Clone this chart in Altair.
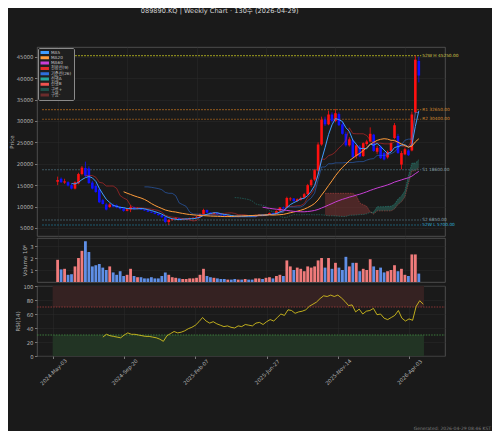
import altair as alt
import pandas as pd

# ---------------- data ----------------
TITLE = "089890.KQ  |  Weekly Chart · 130주  (2026-04-29)"
FOOTER = "Generated: 2026-04-29 08:46 KST"

TICK_POS = [0, 20, 40, 60, 80, 100]
TICK_LABELS = ["2024-May-03", "2024-Sep-20", "2025-Feb-07", "2025-Jun-27", "2025-Nov-14", "2026-Apr-03"]

OPEN = [15800, 16500, 15600, 15700, 15000, 14200, 15400, 17600, 19000, 18900,
        15600, 14800, 14000, 11500, 10500, 9900, 10400, 10300, 9900, 9600,
        9000, 9300, 9900, 9500, 9600, 9300, 9100, 8800, 8600, 8300,
        8000, 7500, 6400, 6900, 7100, 7300, 7000, 7000, 7100, 7300,
        7400, 7600, 8200, 9200, 8600, 8300, 8500, 8200, 8000, 7800,
        7900, 7700, 7600, 7800, 7700, 7900, 7800, 7700, 8000, 8100,
        7900, 8200, 8500, 8300, 9000, 9800, 9700, 11700, 11900, 11300,
        11600, 12100, 12900, 15000, 16300, 18400, 24500, 30300, 29200, 31500,
        30000, 31600, 29200, 27000, 24300, 25500, 21800, 24000, 21800, 24600,
        25200, 26800, 22800, 24000, 22500, 21500, 23000, 26000, 26500, 19800,
        22200, 23100, 23100, 32000, 44000]
HIGH = [17000, 16800, 16500, 15900, 15300, 15900, 17900, 19500, 20500, 19400,
        16000, 15200, 14400, 11800, 10800, 10800, 10700, 10500, 10100, 9800,
        9600, 10300, 10000, 9800, 9700, 9400, 9200, 8900, 8700, 8400,
        8100, 7600, 7000, 7300, 7500, 7400, 7200, 7300, 7400, 7500,
        7800, 8400, 9500, 9300, 8700, 8700, 8600, 8300, 8100, 8000,
        8000, 7800, 7900, 7900, 8000, 8000, 7900, 8100, 8200, 8200,
        8300, 8600, 8600, 9100, 9900, 10000, 12300, 12200, 12000, 11900,
        12300, 13200, 15300, 16500, 18800, 25000, 31000, 31000, 32400, 32000,
        32800, 32000, 29800, 27500, 26200, 25800, 24600, 24400, 25000, 25600,
        28500, 27000, 24200, 24300, 22800, 23100, 25200, 29500, 27000, 23000,
        23800, 23400, 32200, 45250, 45000]
LOW = [15000, 15500, 15300, 14700, 14000, 14000, 15200, 17300, 16900, 15300,
       14000, 13200, 10800, 10500, 9100, 9700, 9800, 9600, 9300, 8800,
       8900, 8700, 9300, 9400, 9200, 9000, 8700, 8500, 8200, 7900,
       7400, 6100, 5700, 6700, 6900, 6900, 6800, 6900, 7000, 7200,
       7300, 7500, 8100, 8500, 8200, 8200, 8100, 7900, 7700, 7700,
       7600, 7500, 7500, 7600, 7600, 7700, 7600, 7600, 7900, 7800,
       7800, 8100, 8200, 8200, 8900, 9400, 9600, 11300, 11100, 11100,
       11400, 11900, 12700, 14600, 16000, 18200, 24200, 28800, 29000, 29600,
       29700, 28800, 26800, 24000, 24000, 21300, 21200, 21500, 21600, 24200,
       25000, 22800, 22300, 21100, 20800, 21200, 22800, 25800, 22300, 18700,
       22000, 21800, 22900, 31800, 39000]
CLOSE = [16200, 15700, 15900, 14900, 14200, 15700, 17600, 19100, 17200, 15500,
         14200, 13400, 11000, 10600, 9300, 10500, 10000, 9800, 9500, 9000,
         9400, 9900, 9500, 9600, 9300, 9100, 8800, 8600, 8300, 8000,
         7500, 6400, 6900, 7100, 7300, 7000, 7050, 7100, 7300, 7400,
         7600, 8200, 9200, 8600, 8300, 8500, 8200, 8000, 7800, 7900,
         7700, 7600, 7800, 7700, 7900, 7800, 7700, 8000, 8100, 7900,
         8200, 8500, 8300, 9000, 9800, 9600, 12000, 11900, 11300, 11700,
         12000, 12900, 15000, 16200, 18500, 24500, 30300, 29200, 31500, 30000,
         31800, 29000, 27000, 24300, 25700, 21500, 24300, 21700, 24800, 25200,
         27000, 23000, 23700, 21300, 21000, 22800, 24800, 29000, 22500, 22500,
         23400, 22000, 31500, 44300, 40600]
VOLUME_M = [1.85, 1.05, 1.10, 0.60, 0.65, 1.30, 2.00, 2.60, 3.40, 2.50,
            1.30, 1.40, 1.50, 1.20, 1.00, 1.30, 0.80, 0.60, 0.90, 0.50,
            0.60, 1.10, 0.50, 0.40, 0.40, 0.30, 0.30, 0.40, 0.30, 0.30,
            0.50, 0.80, 0.60, 0.40, 0.35, 0.30, 0.25, 0.25, 0.30, 0.30,
            0.35, 0.60, 1.10, 0.50, 0.40, 0.35, 0.30, 0.25, 0.25, 0.20,
            0.20, 0.25, 0.20, 0.20, 0.25, 0.20, 0.20, 0.30, 0.30, 0.25,
            0.35, 0.40, 0.30, 0.50, 0.60, 0.50, 1.80, 1.30, 1.00, 1.20,
            1.10, 0.90, 1.30, 1.20, 1.30, 1.80, 2.00, 1.20, 2.00, 1.10,
            1.60, 1.20, 1.00, 2.10, 1.30, 1.60, 1.60, 0.90, 1.10, 1.00,
            1.90, 1.30, 1.00, 1.20, 0.80, 0.90, 1.00, 1.40, 0.90, 1.10,
            0.60, 0.50, 2.30, 2.30, 0.70]
RSI14 = [None] * 14 + [
    27, 31, 29, 28, 27, 26, 30, 33, 31, 31,
    30, 29, 28, 28, 27, 26, 24, 21, 29, 32,
    35, 33, 34, 36, 39, 41, 44, 49, 55, 50,
    47, 49, 46, 44, 42, 43, 41, 40, 43, 42,
    45, 44, 43, 47, 48, 45, 49, 52, 50, 55,
    60, 58, 66, 65, 61, 63, 64, 66, 71, 74,
    77, 82, 86, 85, 87, 85, 87, 83, 78, 72,
    73, 63, 67, 60, 64, 65, 68, 59, 60, 54,
    52, 55, 58, 65, 54, 50, 53, 51, 71, 79,
    74]

LEVEL_NAMES = ["52W H", "R1", "R2", "S1", "S2", "52W L"]
LEVEL_VALUES = [45250, 32650, 30400, 18600, 6850, 5700]

SERIES_LABELS = ["MA5", "MA20", "MA60", "전환선(9)", "기준선(26)", "선행A", "선행B", "구름+", "구름-"]

RSI_UPPER = 70
RSI_LOWER = 30

# ---------------- styles ----------------
FONT = "DejaVu Sans, Noto Sans CJK KR"
BG = "#1a1a1a"
SERIES_COLORS = ["#3f9dff", "#ff9c3a", "#c93fd6", "#e02a2a", "#2f6fdc",
                 "#26a69a", "#ef5350", "#1f504a", "#6b2c2c"]
UP, DOWN = "#ff1010", "#1010ff"
VOL_UP, VOL_DOWN = "#f07b7b", "#5f8fe6"
LEVEL_LINE = ["#86861e", "#7d4e1c", "#7d4e1c", "#3f5761", "#3f5761", "#1d5a70"]
LEVEL_TEXT = ["#d6c94a", "#d58b2f", "#d58b2f", "#8aa2ad", "#8aa2ad", "#2fb0d8"]
RSI_COLOR = "#e8d21d"

W, HP, HV, HR = 408, 189, 44, 70
X_DOMAIN = [-4.5, 110.1]
LABEL_END = 104.7

n = len(CLOSE)
df = pd.DataFrame({
    "i": list(range(n)), "open": OPEN, "high": HIGH, "low": LOW,
    "close": CLOSE, "vol": VOLUME_M, "rsi": RSI14,
})

xs = alt.Scale(domain=X_DOMAIN, nice=False, zero=False)
ps = alt.Scale(domain=[3130, 47265], nice=False, zero=False)
vs = alt.Scale(domain=[0, 3.67], nice=False)
rs = alt.Scale(domain=[0, 100], nice=False)

grid_x = alt.Axis(values=TICK_POS, labels=False, ticks=False, domain=False, grid=True, title=None)
label_expr = "".join(f"datum.value == {p} ? '{l}' : " for p, l in zip(TICK_POS, TICK_LABELS)) + "''"
bottom_x = alt.Axis(values=TICK_POS, labelExpr=label_expr, labelAngle=315, labelAlign="center",
                    labelBaseline="middle", labelPadding=13, grid=True, domain=False,
                    title=None, labelOverlap=False)

price_axis = alt.Axis(values=list(range(5000, 45001, 5000)), format="d", title="Price", grid=True)
vol_axis = alt.Axis(values=[1, 2, 3], format="d", title="Volume  10⁶", grid=True)
rsi_axis = alt.Axis(values=[0, 20, 40, 60, 80, 100], format="d", title="RSI(14)", grid=True)

X = alt.X("i:Q", scale=xs, axis=grid_x)


def PY(field):
    return alt.Y(f"{field}:Q", scale=ps, axis=price_axis)


base = alt.Chart(df)
up = base.transform_filter("datum.close >= datum.open")
dn = base.transform_filter("datum.close < datum.open")

# ---------- indicators (computed by Vega-Lite from the OHLC table) ----------
srt = [alt.SortField("i")]
ind = (
    base
    .transform_window(ma5="mean(close)", n5="count()", frame=[-4, 0], sort=srt)
    .transform_window(ma20r="mean(close)", n20="count()", frame=[-19, 0], sort=srt)
    .transform_window(ma60r="mean(close)", n60="count()", frame=[-59, 0], sort=srt)
    .transform_window(h9="max(high)", l9="min(low)", n9="count()", frame=[-8, 0], sort=srt)
    .transform_window(h26="max(high)", l26="min(low)", n26="count()", frame=[-25, 0], sort=srt)
    .transform_window(h52="max(high)", l52="min(low)", n52="count()", frame=[-51, 0], sort=srt)
    .transform_calculate(
        ma5v="datum.n5 >= 5 ? datum.ma5 : null",
        ma20="datum.n20 >= 20 ? datum.ma20r : null",
        ma60="datum.n60 >= 60 ? datum.ma60r : null",
        tenkan="datum.n9 >= 9 ? (datum.h9 + datum.l9) / 2 : null",
        kijun="datum.n26 >= 26 ? (datum.h26 + datum.l26) / 2 : null",
        sbraw="datum.n52 >= 52 ? (datum.h52 + datum.l52) / 2 : null",
    )
    .transform_calculate(
        saraw="isValid(datum.tenkan) && isValid(datum.kijun) ? (datum.tenkan + datum.kijun) / 2 : null"
    )
    .transform_window(
        window=[
            alt.WindowFieldDef(**{"op": "lag", "field": "saraw", "param": 26, "as": "spanA"}),
            alt.WindowFieldDef(**{"op": "lag", "field": "sbraw", "param": 26, "as": "spanB"}),
        ],
        sort=srt,
    )
)

keys = ["ma5v", "ma20", "ma60", "tenkan", "kijun", "spanA", "spanB"]
series_expr = "".join(f"datum.key == '{k}' ? '{l}' : " for k, l in zip(keys, SERIES_LABELS)) + "''"
long = (ind.transform_fold(keys, as_=["key", "val"])
        .transform_filter("isValid(datum.val)")
        .transform_calculate(series=series_expr))

LEG = alt.Legend(orient="none", legendX=1, legendY=1, title=None, fillColor="#1f1f1f",
                 strokeColor="#8a8a8a", padding=2.5, cornerRadius=1.5, labelFontSize=4.2,
                 labelColor="#c8c8c8", labelFont=FONT, symbolType="M-2,0H2", symbolSize=20,
                 symbolStrokeWidth=3, symbolOpacity=1, rowPadding=0.3, clipHeight=4.0,
                 labelOffset=2.5, labelLimit=80)
COLOR = alt.Color("series:N", scale=alt.Scale(domain=SERIES_LABELS, range=SERIES_COLORS), legend=LEG)


def pick(ks):
    return long.transform_filter(alt.FieldOneOfPredicate(field="key", oneOf=ks))


ma_lines = pick(["ma5v", "ma20", "ma60"]).mark_line(strokeWidth=1.0).encode(x=X, y=PY("val"), color=COLOR)
ichi_lines = pick(["tenkan", "kijun"]).mark_line(strokeWidth=0.9, opacity=0.6).encode(x=X, y=PY("val"), color=COLOR)
span_lines = pick(["spanA", "spanB"]).mark_line(strokeWidth=0.7, opacity=0.6, strokeDash=[1.5, 1]).encode(
    x=X, y=PY("val"), color=COLOR)

cl = ind.transform_filter("isValid(datum.spanA) && isValid(datum.spanB)").transform_calculate(
    g2="datum.spanA >= datum.spanB ? datum.spanB : datum.spanA",
    r2="datum.spanB > datum.spanA ? datum.spanA : datum.spanB")
cloud_up = cl.mark_area(color="#2f7a6c", opacity=0.45).encode(x=X, y=PY("spanA"), y2="g2:Q")
cloud_dn = cl.mark_area(color="#8b3838", opacity=0.45).encode(x=X, y=PY("spanB"), y2="r2:Q")

wick_up = up.mark_rule(color=UP, strokeWidth=0.8).encode(x=X, y=PY("low"), y2="high:Q")
wick_dn = dn.mark_rule(color=DOWN, strokeWidth=0.8).encode(x=X, y=PY("low"), y2="high:Q")
body_up = up.mark_bar(color=UP, size=2.6).encode(x=X, y=PY("open"), y2="close:Q")
body_dn = dn.mark_bar(color=DOWN, size=2.6).encode(x=X, y=PY("open"), y2="close:Q")

level_layers = []
for name, val, lc, tc in zip(LEVEL_NAMES, LEVEL_VALUES, LEVEL_LINE, LEVEL_TEXT):
    src = alt.Chart(pd.DataFrame({"v": [val], "txt": [f"{name} {val:.2f}"]}))
    level_layers.append(src.mark_rule(color=lc, strokeWidth=1.1, strokeDash=[2, 1]).encode(
        y=PY("v"), x=alt.datum(X_DOMAIN[0]), x2=alt.datum(LABEL_END)))
    level_layers.append(src.mark_text(align="left", baseline="middle", dx=1, fontSize=4.3, font=FONT,
                                      color=tc).encode(y=PY("v"), x=alt.datum(LABEL_END), text="txt:N"))

price = alt.layer(
    cloud_up, cloud_dn, *level_layers,
    wick_up, wick_dn, body_up, body_dn,
    span_lines, ichi_lines, ma_lines,
).properties(width=W, height=HP)

# ---------- volume ----------
VY = alt.Y("vol:Q", scale=vs, axis=vol_axis)
volume = alt.layer(
    up.mark_bar(color=VOL_UP, size=2.8).encode(x=X, y=VY),
    dn.mark_bar(color=VOL_DOWN, size=2.8).encode(x=X, y=VY),
).properties(width=W, height=HV)

# ---------- RSI ----------
XB = alt.X("i:Q", scale=xs, axis=bottom_x)
RY = alt.Y("rsi:Q", scale=rs, axis=rsi_axis)
one = alt.Chart(pd.DataFrame({"k": [0]}))
zone_hi = one.mark_rect(color="#352222").encode(
    x=alt.datum(-0.1), x2=alt.datum(104.2),
    y=alt.Y(datum=RSI_UPPER, scale=rs, axis=rsi_axis), y2=alt.datum(100))
zone_lo = one.mark_rect(color="#223424").encode(
    x=alt.datum(-0.1), x2=alt.datum(104.2),
    y=alt.Y(datum=0, scale=rs, axis=rsi_axis), y2=alt.datum(RSI_LOWER))
rule_hi = one.mark_rule(color="#8a3535", strokeWidth=1.0, strokeDash=[1.5, 1.2]).encode(
    y=alt.Y(datum=RSI_UPPER, scale=rs, axis=rsi_axis), x=alt.value(0), x2=alt.value(W))
rule_lo = one.mark_rule(color="#3d7d3d", strokeWidth=1.0, strokeDash=[1.5, 1.2]).encode(
    y=alt.Y(datum=RSI_LOWER, scale=rs, axis=rsi_axis), x=alt.value(0), x2=alt.value(W))
rsi_line = base.transform_filter("isValid(datum.rsi)").mark_line(color=RSI_COLOR, strokeWidth=0.8).encode(x=XB, y=RY)
footer = alt.Chart(pd.DataFrame({"t": [FOOTER]})).mark_text(
    align="right", baseline="middle", fontSize=4.5, color="#7a7a7a", font=FONT).encode(
    text="t:N", x=alt.value(W + 46), y=alt.value(HR + 73))

rsi = alt.layer(zone_hi, zone_lo, rule_hi, rule_lo, rsi_line, footer).properties(width=W, height=HR)

chart = alt.vconcat(price, volume, rsi, spacing=0).properties(
    title=alt.TitleParams(TITLE, anchor="start", frame="bounds", dx=132, offset=32, fontSize=6.6,
                          color="#d8d8d8", font=FONT, fontWeight="normal"),
    background=BG, padding={"left": 0, "top": 0, "right": 0, "bottom": 0},
).configure_view(stroke="#5a5a5a", strokeWidth=0.8).configure_axis(
    labelFont=FONT, titleFont=FONT, labelColor="#b0b0b0", titleColor="#b0b0b0",
    labelFontSize=5.3, titleFontSize=5.5, titleFontWeight="normal", gridColor="#2b2b2b", gridWidth=0.5,
    domain=False, tickColor="#777777", tickSize=2.5, titlePadding=2, labelPadding=1.5,
)

chart.save("out.html", embed_options={"renderer": "svg", "actions": False})
